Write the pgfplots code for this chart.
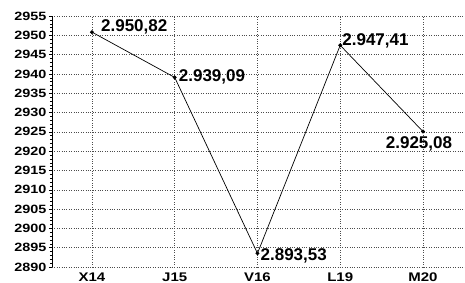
\documentclass[border=0pt]{standalone}
\usepackage{fontspec}
\setmainfont{Liberation Sans}
\newfontfamily\tickfont[FakeStretch=1.2]{Liberation Sans}
\usepackage{pgfplots}
\pgfplotsset{compat=1.18}
\pgfplotsset{lbl/.style n args={3}{draw=none, mark=none, forget plot,
  nodes near coords={#1},
  every node near coord/.append style={font=\bfseries\fontsize{17}{18}\selectfont, anchor=#2, #3, inner sep=1pt}}}
\begin{document}
\begin{tikzpicture}
\begin{axis}[
  scale only axis,
  width=413pt, height=251pt,
  xmin=-0.483, xmax=4.508,
  ymin=2890, ymax=2955,
  axis x line=bottom, axis y line=left,
  x axis line style={-, dotted, gray!60!black},
  y axis line style={-, black, line width=0.5pt},
  xtick={0,1,2,3,4},
  xticklabels={X14,J15,V16,L19,M20},
  ytick={2890,2895,...,2955},
  minor y tick num=4,
  tick align=outside,
  major tick length=3pt, minor tick length=2pt,
  tick style={black, line width=0.4pt},
  xtick style={draw=none},
  grid=major,
  major grid style={dotted, gray!60!black, line width=0.5pt},
  /pgf/number format/assume math mode=true,
  /pgf/number format/1000 sep={},
  yticklabel style={font=\tickfont\bfseries\fontsize{12}{12}\selectfont, xshift=1pt},
  xticklabel style={font=\tickfont\bfseries\fontsize{12.5}{12}\selectfont, yshift=1pt},
  clip=false,
]
\addplot[black, line width=0.7pt, mark=*, mark size=1.6pt] coordinates {
  (0,2950.82) (1,2939.09) (2,2893.53) (3,2947.41) (4,2925.08)};
\addplot[lbl={2.950,82}{west}{xshift=8pt,yshift=5pt}] coordinates {(0,2950.82)};
\addplot[lbl={2.939,09}{west}{xshift=3pt,yshift=1pt}] coordinates {(1,2939.09)};
\addplot[lbl={2.893,53}{west}{xshift=2pt,yshift=-3pt}] coordinates {(2,2893.53)};
\addplot[lbl={2.947,41}{west}{xshift=1pt,yshift=4pt}] coordinates {(3,2947.41)};
\addplot[lbl={2.925,08}{north}{xshift=-4pt,yshift=-4pt}] coordinates {(4,2925.08)};
\end{axis}
\pgfresetboundingbox
\path (current axis.south west) ++(-52pt,-16pt) coordinate (bl);
\path (current axis.north east) ++(0pt,16pt) coordinate (tr);
\path[use as bounding box] (bl) rectangle (tr);
\end{tikzpicture}
\end{document}
